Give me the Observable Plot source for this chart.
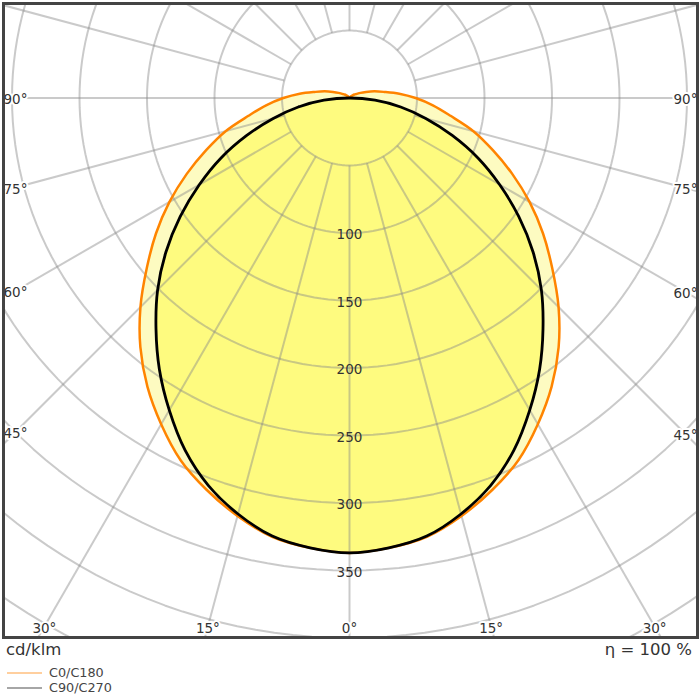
<!DOCTYPE html>
<html>
<head>
<meta charset="utf-8">
<script src="https://cdn.jsdelivr.net/npm/d3@7"></script>
<script src="https://cdn.jsdelivr.net/npm/@observablehq/plot@0.6"></script>
<style>
  body { margin: 0; background: #fff; font-family: "DejaVu Sans", sans-serif; }
  #wrap { position: relative; width: 700px; height: 700px; }
  .foot { position: absolute; color: #333; line-height: 1; white-space: nowrap; }
  .row { display: flex; align-items: center; height: 15px; line-height: 12px; }
</style>
</head>
<body>
<div id="wrap">
  <div id="chart"></div>
  <div class="foot" style="left:6px; top:642px; font-size:16.5px;">cd/klm</div>
  <div class="foot" style="right:8px; top:642px; font-size:16.5px;">η = 100 %</div>
  <div class="foot" style="left:0; top:665px; font-size:12.8px; color:#444;">
    <div class="row">
      <svg width="46" height="14"><line x1="7" x2="42" y1="7" y2="7" stroke="#ffcf9e" stroke-width="2"/></svg>
      <span style="margin-left:3px">C0/C180</span>
    </div>
    <div class="row">
      <svg width="46" height="14"><line x1="7" x2="42" y1="7" y2="7" stroke="#a6a6a6" stroke-width="2"/></svg>
      <span style="margin-left:3px">C90/C270</span>
    </div>
  </div>
</div>
<script>
// gamma angles (deg from nadir), intensities in cd/klm
const gammas = d3.range(0, 181, 5);
const c0c180 = [337, 334.5, 330, 320.5, 309, 296, 279, 261, 241, 219, 196, 175, 154, 133, 113, 95, 76, 62,
                49, 37, 26, 19, 13, 9, 6, 4.5, 3, 2, 1.5, 1, 0.8, 0.6, 0.4, 0.3, 0.2, 0.1, 0];
const c90c270 = [337, 334.5, 329.5, 319, 305.5, 288, 267, 245.5, 223, 201, 177.5, 153, 128.5, 105, 81, 58.5, 38.5, 19,
                 0, 0, 0, 0, 0, 0, 0, 0, 0, 0, 0, 0, 0, 0, 0, 0, 0, 0, 0];
const rings = [50, 100, 150, 200, 250, 300, 350, 400, 450, 500];
const ringLabels = [100, 150, 200, 250, 300, 350];
const spokes = d3.range(0, 360, 15);
const sideAngles = [90, 75, 60, 45];
const bottomAngles = [30, 15, 0];

// layout
const W = 700, H = 640, m = 3;
const k = 1.35, cx = 349, cy = 97.5;
const xDom = [(m - cx) / k, (W - m - cx) / k];
const yDom = [(m - cy) / k, (H - m - cy) / k];
const rad = Math.PI / 180;

function curvePoints(vals, maxG) {
  const pts = [];
  for (let g = -180 + 5; g <= 180; g += 5) {
    if (Math.abs(g) > maxG) continue;
    if (maxG < 180 && g === -maxG) continue; // same point as +maxG (origin)
    const r = vals[gammas.indexOf(Math.abs(g))];
    pts.push({x: r * Math.sin(g * rad), y: r * Math.cos(g * rad)});
  }
  return pts;
}
const orangePts = curvePoints(c0c180, 180);
const blackPts = curvePoints(c90c270, 90);

const ringPts = rings.flatMap(r => d3.range(0, 361, 2).map(t => ({r, x: r * Math.sin(t * rad), y: r * Math.cos(t * rad)})));
const spokeLines = spokes.map(a => ({
  x1: 50 * Math.sin(a * rad), y1: 50 * Math.cos(a * rad),
  x2: 700 * Math.sin(a * rad), y2: 700 * Math.cos(a * rad)
}));

const angleLabels = [];
for (const a of sideAngles) {
  for (const s of [-1, 1]) {
    const x = s < 0 ? xDom[0] + 12 / k : xDom[1] - 12 / k;
    angleLabels.push({x, y: Math.abs(x) / Math.tan(a * rad), text: a + "°"});
  }
}
for (const a of bottomAngles) {
  const y = yDom[1] - 11 / k;
  for (const s of (a === 0 ? [1] : [-1, 1])) {
    angleLabels.push({x: s * y * Math.tan(a * rad), y, text: a + "°"});
  }
}

const chart = Plot.plot({
  width: W,
  height: H,
  margin: m,
  x: {domain: xDom, axis: null},
  y: {domain: yDom, reverse: true, axis: null},
  style: {fontFamily: "DejaVu Sans", background: "#fff"},
  marks: [
    Plot.line(orangePts, {x: "x", y: "y", fill: "#fdfbc1", stroke: "none", curve: "catmull-rom-closed"}),
    Plot.line(blackPts, {x: "x", y: "y", fill: "#fefb7f", stroke: "none", curve: "catmull-rom-closed"}),
    Plot.line(ringPts, {x: "x", y: "y", z: "r", stroke: "#8a8a8a", strokeOpacity: 0.45, strokeWidth: 2, clip: true}),
    Plot.link(spokeLines, {x1: "x1", y1: "y1", x2: "x2", y2: "y2", stroke: "#8a8a8a", strokeOpacity: 0.45, strokeWidth: 2, clip: true}),
    Plot.line(orangePts, {x: "x", y: "y", stroke: "#ff8400", strokeWidth: 2.5, curve: "catmull-rom-closed"}),
    Plot.line(blackPts, {x: "x", y: "y", stroke: "#000", strokeWidth: 2.8, curve: "catmull-rom-closed"}),
    Plot.text(ringLabels, {x: 0, y: d => d, text: d => String(d), fontSize: 13.5, fill: "#333", dy: 2}),
    Plot.text(angleLabels, {x: "x", y: "y", text: "text", fontSize: 13.5, fill: "#333", stroke: "#fff", strokeWidth: 4, dy: 2}),
    Plot.frame({stroke: "#444", strokeWidth: 3})
  ]
});
document.getElementById("chart").append(chart);
</script>
</body>
</html>
